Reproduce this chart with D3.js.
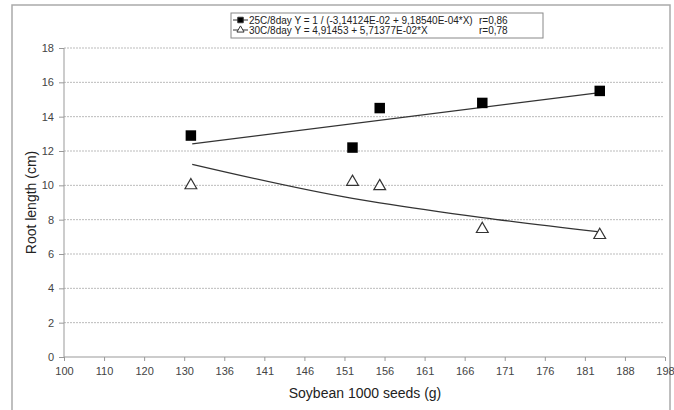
<!DOCTYPE html>
<html>
<head>
<meta charset="utf-8">
<script src="https://cdn.jsdelivr.net/npm/d3@7"></script>
<style>
  body { margin: 0; background: #fff; }
  svg { font-family: "Liberation Sans", Arial, sans-serif; }
  .grid line { stroke: #bbb; stroke-dasharray: 2,1; }
  .axis path, .axis line { stroke: #999; }
  .axis text { fill: #444; font-size: 11px; }
</style>
</head>
<body>
<div id="chart"></div>
<script>
// x tick labels are evenly spaced on the original axis
var xTicks = [100, 110, 120, 130, 136, 141, 146, 151, 156, 161, 166, 171, 176, 181, 188, 198];
var yTicks = [0, 2, 4, 6, 8, 10, 12, 14, 16, 18];

var seeds = [131, 152, 155.4, 168.2, 183.6];
var root25 = [12.9, 12.2, 14.5, 14.8, 15.5];
var root30 = [10.0, 10.2, 9.95, 7.45, 7.1];

// trend equations as printed in the legend
var linCoef = [4.91453, 5.71377e-02];
var recCoef = [-3.14124e-02, 9.18540e-04];
var trendRange = [131.2, 183.6];

var legendText = [
  ["25C/8day Y = 1 / (-3,14124E-02 + 9,18540E-04*X)", "r=0,86"],
  ["30C/8day Y = 4,91453 + 5,71377E-02*X", "r=0,78"]
];

var width = 674, height = 410;
var plotLeft = 64, plotRight = 665, plotTop = 48, plotBottom = 357;

var svg = d3.select("#chart").append("svg")
    .attr("width", width)
    .attr("height", height);

// outer frame
svg.append("rect")
  .attr("x", 12).attr("y", 5)
  .attr("width", 658).attr("height", 420)
  .attr("fill", "none")
  .attr("stroke", "#aaa")
  .attr("stroke-width", 1.5);

var x = d3.scaleLinear()
    .domain(xTicks)
    .range(xTicks.map(function(d, i) { return plotLeft + i * (plotRight - plotLeft) / (xTicks.length - 1); }));

var y = d3.scaleLinear().domain([0, 18]).range([plotBottom, plotTop]);

svg.append("g")
  .attr("class", "grid")
  .selectAll("line")
  .data(yTicks.slice(1))
  .enter().append("line")
  .attr("x1", plotLeft).attr("x2", plotRight - 2)
  .attr("y1", function(d) { return y(d); })
  .attr("y2", function(d) { return y(d); });

svg.append("g")
  .attr("class", "axis")
  .attr("transform", "translate(" + plotLeft + ",0)")
  .call(d3.axisLeft(y).tickValues(yTicks).tickSize(5).tickPadding(5))
  .call(function(g) { g.select(".domain").attr("d", "M0," + plotTop + "V" + plotBottom); });

svg.append("g")
  .attr("class", "axis")
  .attr("transform", "translate(0," + plotBottom + ")")
  .call(d3.axisBottom(x).tickValues(xTicks).tickFormat(d3.format("d")).tickSize(4).tickPadding(6))
  .call(function(g) { g.select(".domain").attr("d", "M" + plotLeft + ",0H" + plotRight); });

svg.append("text")
  .attr("transform", "translate(36," + ((plotTop + plotBottom) / 2) + ") rotate(-90)")
  .attr("text-anchor", "middle")
  .attr("font-size", 14)
  .attr("fill", "#222")
  .text("Root length (cm)");

svg.append("text")
  .attr("x", 365).attr("y", 398)
  .attr("text-anchor", "middle")
  .attr("font-size", 14)
  .attr("fill", "#222")
  .text("Soybean 1000 seeds (g)");

// trend lines: straight one from its two ends, curved one through the seed positions
var line = d3.line()
    .x(function(d) { return x(d[0]); })
    .y(function(d) { return y(d[1]); });

var linX = trendRange;
var recX = [trendRange[0]].concat(seeds.slice(1, -1), [trendRange[1]]);

svg.append("path")
  .datum(linX.map(function(v) { return [v, linCoef[0] + linCoef[1] * v]; }))
  .attr("d", line)
  .attr("fill", "none")
  .attr("stroke", "#333")
  .attr("stroke-width", 1.3);

svg.append("path")
  .datum(recX.map(function(v) { return [v, 1 / (recCoef[0] + recCoef[1] * v)]; }))
  .attr("d", line.curve(d3.curveMonotoneX))
  .attr("fill", "none")
  .attr("stroke", "#333")
  .attr("stroke-width", 1.3);

var square = d3.symbol().type(d3.symbolSquare).size(110);
var triangle = d3.symbol().type(d3.symbolTriangle).size(60);

svg.append("g")
  .selectAll("path")
  .data(seeds)
  .enter().append("path")
  .attr("d", square)
  .attr("transform", function(d, i) { return "translate(" + x(d) + "," + y(root25[i]) + ")"; })
  .attr("fill", "#000");

svg.append("g")
  .selectAll("path")
  .data(seeds)
  .enter().append("path")
  .attr("d", triangle)
  .attr("transform", function(d, i) { return "translate(" + x(d) + "," + y(root30[i]) + ")"; })
  .attr("fill", "#fff")
  .attr("stroke", "#333")
  .attr("stroke-width", 1.2);

// legend
var lg = svg.append("g").attr("transform", "translate(231,13)");
lg.append("rect")
  .attr("width", 312).attr("height", 25)
  .attr("fill", "#fff")
  .attr("stroke", "#888");

var rows = lg.selectAll(".row")
    .data(legendText)
    .enter().append("g")
    .attr("transform", function(d, i) { return "translate(0," + (7 + i * 10) + ")"; });

rows.append("line")
  .attr("x1", 2).attr("x2", 17)
  .attr("stroke", "#333");

rows.append("path")
  .attr("d", function(d, i) { return i === 0 ? d3.symbol().type(d3.symbolSquare).size(30)() : d3.symbol().type(d3.symbolTriangle).size(22)(); })
  .attr("transform", "translate(9.5,0)")
  .attr("fill", function(d, i) { return i === 0 ? "#000" : "#fff"; })
  .attr("stroke", "#333");

rows.append("text")
  .attr("x", 18).attr("y", 3.5)
  .attr("font-size", 10)
  .attr("fill", "#222")
  .text(function(d) { return d[0]; });

rows.append("text")
  .attr("x", 248).attr("y", 3.5)
  .attr("font-size", 10)
  .attr("fill", "#222")
  .text(function(d) { return d[1]; });
</script>
</body>
</html>
